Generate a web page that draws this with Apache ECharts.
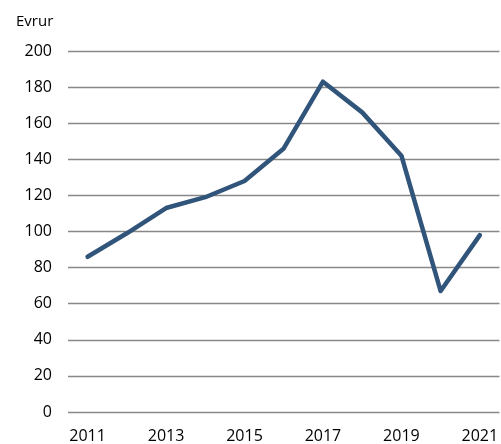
<!DOCTYPE html>
<html>
<head>
<meta charset="utf-8">
<script src="https://cdn.jsdelivr.net/npm/echarts@6/dist/echarts.min.js"></script>
<style>
  html, body { margin: 0; padding: 0; background: #fff; }
  #chart { width: 501px; height: 444px; }
</style>
</head>
<body>
<div id="chart"></div>
<script>
// years on the x axis
const years = ['2011', '2012', '2013', '2014', '2015', '2016', '2017', '2018', '2019', '2020', '2021']
// values (Evrur)
const values = [86, 99, 113, 119, 128, 146, 183, 166, 142, 67, 98]
const unitLabel = 'Evrur'

const chart = echarts.init(document.getElementById('chart'))
chart.setOption({
  animation: false,
  textStyle: { fontFamily: 'Open Sans' },
  title: {
    text: unitLabel,
    left: 11,
    top: 9,
    textStyle: { fontSize: 15, fontWeight: 'normal', color: '#000', fontFamily: 'Open Sans' }
  },
  grid: { left: 68, right: -2, top: 51, bottom: 31, containLabel: false },
  xAxis: {
    type: 'category',
    data: years,
    boundaryGap: true,
    axisLine: { show: false },
    axisTick: { show: false },
    axisLabel: {
      interval: 1,
      color: '#000',
      fontSize: 16,
      margin: 16
    }
  },
  yAxis: {
    type: 'value',
    min: 0,
    max: 200,
    interval: 20,
    axisLine: { show: false },
    axisTick: { show: false },
    axisLabel: { color: '#000', fontSize: 16, margin: 16 },
    splitLine: { lineStyle: { color: '#888', width: 1.3 } }
  },
  series: [{
    type: 'line',
    data: values,
    showSymbol: false,
    symbol: 'none',
    lineStyle: { color: '#30547a', width: 4.5, join: 'round', cap: 'round' }
  }]
})
</script>
</body>
</html>
